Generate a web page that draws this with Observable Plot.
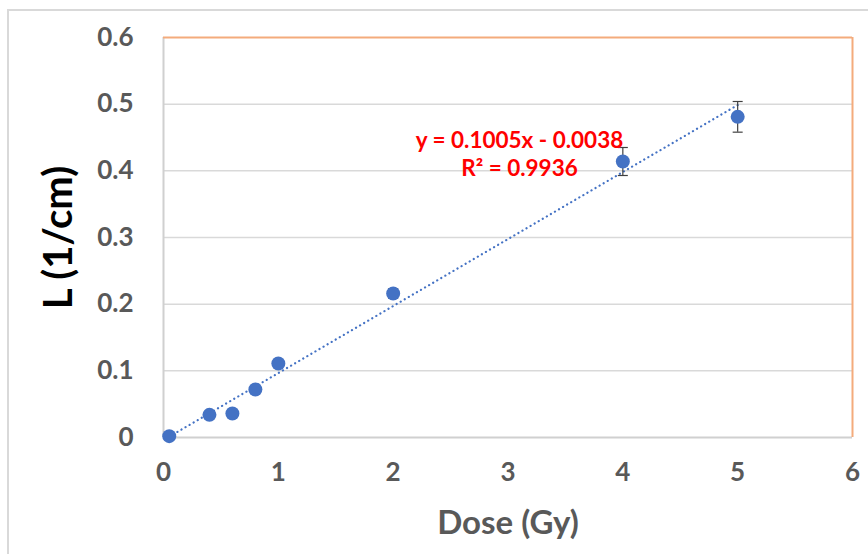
<!DOCTYPE html>
<html>
<head>
<meta charset="utf-8">
<script src="https://cdn.jsdelivr.net/npm/d3@7"></script>
<script src="https://cdn.jsdelivr.net/npm/@observablehq/plot@0.6"></script>
<style>
  html, body { margin: 0; padding: 0; background: #fff; }
  #wrap { position: relative; width: 868px; height: 554px; overflow: hidden; }
  #frame { position: absolute; left: 7px; top: 9px; width: 900px; height: 600px;
           border-left: 2px solid #d9d9d9; border-top: 2px solid #d9d9d9; }
  #chart { position: absolute; left: 0; top: 0; }
  #chart svg { font-family: Lato, "Open Sans", sans-serif; }
  g[aria-label="x-axis tick label"] text,
  g[aria-label="y-axis tick label"] text { font-size: 26px; font-weight: 700; fill: #595959; }
  g[aria-label="x-axis label"] text { font-size: 33px; font-weight: 700; fill: #595959; }
  g[aria-label="y-axis label"] text { font-size: 40px; font-weight: 700; fill: #000; }
</style>
</head>
<body>
<div id="wrap"><div id="frame"></div><div id="chart"></div></div>
<script>
// Data
const dose = [0.05, 0.4, 0.6, 0.8, 1, 2, 4, 5];
const L = [0.002, 0.034, 0.036, 0.072, 0.111, 0.216, 0.414, 0.481];
const err = [0.002, 0.003, 0.003, 0.003, 0.004, 0.007, 0.021, 0.023];
const trendSlope = 0.1005;
const trendIntercept = -0.0038;
const equationLines = ["y = 0.1005x - 0.0038", "R² = 0.9936"];
const equationAnchor = [3.10, 0.426];   // data position of annotation centre
const xTicks = [0, 1, 2, 3, 4, 5, 6];
const yTicks = [0, 0.1, 0.2, 0.3, 0.4, 0.5, 0.6];

const points = dose.map((x, i) => ({x, y: L[i], e: err[i]}));
const xFirst = d3.min(dose), xLast = d3.max(dose);
const trend = [xFirst, xLast].map(x => ({x, y: trendSlope * x + trendIntercept}));

const capSymbol = {
  draw(ctx, size) {
    const r = Math.sqrt(size / Math.PI);
    ctx.moveTo(-r, 0); ctx.lineTo(r, 0);
  }
};

const chart = Plot.plot({
  width: 868,
  height: 554,
  marginLeft: 163,
  marginRight: 16,
  marginTop: 37,
  marginBottom: 117,
  style: {background: "transparent", overflow: "visible"},
  x: {domain: [0, 6]},
  y: {domain: [0, 0.6]},
  marks: [
    Plot.gridY(yTicks.filter(v => v > 0 && v < 0.6), {stroke: "#d9d9d9", strokeOpacity: 1, strokeWidth: 1.5}),
    Plot.ruleX([0], {stroke: "#d0d0d0", strokeWidth: 2}),
    Plot.ruleY([0], {stroke: "#d0d0d0", strokeWidth: 2}),
    Plot.ruleY([0.6], {stroke: "#f4ab7c", strokeWidth: 2}),
    Plot.ruleX([6], {stroke: "#f4ab7c", strokeWidth: 2}),
    Plot.axisX({ticks: xTicks, tickSize: 0, tickPadding: 25, tickFormat: d => String(d),
      label: "Dose (Gy)", labelAnchor: "center", labelArrow: false, labelOffset: 96}),
    Plot.axisY({ticks: yTicks, tickSize: 0, tickPadding: 30, tickFormat: d => String(d),
      label: "L (1/cm)", labelAnchor: "center", labelArrow: false, labelOffset: 120}),
    Plot.line(trend, {x: "x", y: "y", stroke: "#4472c4", strokeWidth: 2.2,
      strokeDasharray: "0.1,4.6", strokeLinecap: "round"}),
    Plot.ruleX(points, {x: "x", y1: d => d.y - d.e, y2: d => d.y + d.e, stroke: "#404040", strokeWidth: 1.2}),
    Plot.dot(points, {x: "x", y: d => d.y - d.e, symbol: capSymbol, r: 5, stroke: "#404040", strokeWidth: 1.2, fill: "none"}),
    Plot.dot(points, {x: "x", y: d => d.y + d.e, symbol: capSymbol, r: 5, stroke: "#404040", strokeWidth: 1.2, fill: "none"}),
    Plot.dot(points, {x: "x", y: "y", r: 7, fill: "#4472c4", stroke: "none"}),
    Plot.text([equationLines.join("\n")], {x: () => equationAnchor[0], y: () => equationAnchor[1],
      text: d => d, fill: "#ff0000", fontSize: 22.5, fontWeight: 700, lineHeight: 1.24,
      textAnchor: "middle", fontFamily: "Lato"})
  ]
});
document.getElementById("chart").appendChild(chart);
</script>
</body>
</html>
